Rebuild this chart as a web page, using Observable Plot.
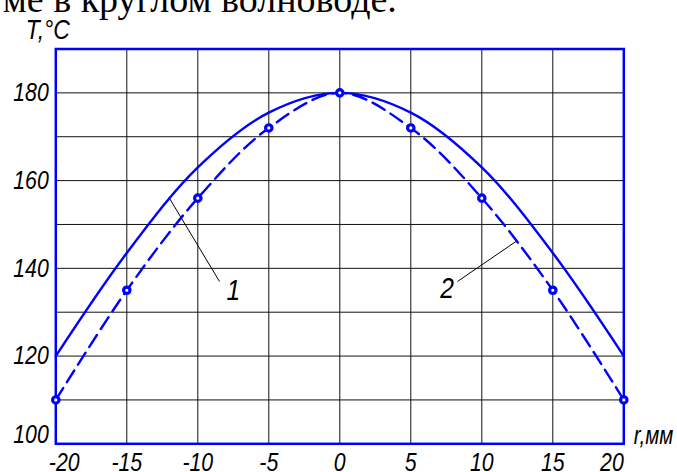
<!DOCTYPE html>
<html>
<head>
<meta charset="utf-8">
<script src="https://cdn.jsdelivr.net/npm/d3@7"></script>
<script src="https://cdn.jsdelivr.net/npm/@observablehq/plot@0.6"></script>
<style>
  html, body { margin: 0; padding: 0; background: #fff; }
  #chart { width: 677px; height: 472px; overflow: hidden; }
</style>
</head>
<body>
<div id="chart"></div>
<script>
// Radial temperature profile, mm → °C
const radius = [-20, -15, -10, -5, 0, 5, 10, 15, 20];
const tempCurve1 = [120, 143.5, 163, 175.5, 180, 175.5, 163, 143.5, 120];
const tempCurve2 = [110, 135, 156, 172, 180, 172, 156, 135, 110];

// Axis ticks and grid
const xTicks = [-20, -15, -10, -5, 0, 5, 10, 15, 20];
const yTicks = [100, 120, 140, 160, 180];
const yGrid = [100, 110, 120, 130, 140, 150, 160, 170, 180, 190];

// Curve numbers with their leader lines (data units)
const curveLabels = ["1", "2"];
const labelR = [-7.5, 7.55];
const labelT = [134.9, 135.4];
const leaderR1 = [-12.04, 12.44];
const leaderT1 = [156.2, 146.2];
const leaderR2 = [-8.47, 8.29];
const leaderT2 = [137.0, 137.0];

const heading = "ме в круглом волноводе.";
const yTitle = "T,°C";
const xTitle = "r,мм";

const blue = "#0000ff";
const sans = '"Liberation Sans", Arial, sans-serif';
const serif = '"Liberation Serif", "Times New Roman", serif';

const curve1 = radius.map((r, i) => ({r, t: tempCurve1[i]}));
const curve2 = radius.map((r, i) => ({r, t: tempCurve2[i]}));
const labels = curveLabels.map((text, i) => ({
  text, r: labelR[i], t: labelT[i],
  r1: leaderR1[i], t1: leaderT1[i], r2: leaderR2[i], t2: leaderT2[i]
}));
const inner = xTicks.slice(1, -1);

const chart = Plot.plot({
  width: 677,
  height: 472,
  marginLeft: 55.3,
  marginRight: 53.7,
  marginTop: 48.5,
  marginBottom: 28.7,
  x: {domain: [-20, 20], axis: null},
  y: {domain: [100, 190], axis: null},
  style: {fontFamily: sans, fontStyle: "italic", fontSize: "26px", color: "#000", background: "#fff"},
  marks: [
    // grid
    Plot.ruleX(xTicks, {x: d => d, stroke: "#111", strokeWidth: 1}),
    Plot.ruleY(yGrid, {y: d => d, stroke: "#111", strokeWidth: 1}),
    Plot.frame({stroke: blue, strokeWidth: 2.5}),

    // leader lines
    Plot.link(labels, {x1: "r1", y1: "t1", x2: "r2", y2: "t2", stroke: "#000", strokeWidth: 1}),

    // curves
    Plot.line(curve1, {x: "r", y: "t", curve: "catmull-rom", stroke: blue, strokeWidth: 2.4}),
    Plot.line(curve2, {x: "r", y: "t", curve: "catmull-rom", stroke: blue, strokeWidth: 2.4, strokeDasharray: "14,7"}),
    Plot.dot(curve2, {x: "r", y: "t", r: 3.2, stroke: blue, strokeWidth: 3.2, fill: "#fff"}),

    // curve numbers
    Plot.text(labels, {x: "r", y: "t", text: "text", fontSize: 30, className: "narrow"}),

    // x tick labels
    Plot.text(inner, {x: d => d, text: d => String(d), frameAnchor: "bottom", lineAnchor: "top", dy: 9, className: "narrow"}),
    Plot.text(xTicks.slice(0, 1), {x: d => d, text: d => String(d), frameAnchor: "bottom", lineAnchor: "top", dy: 9, textAnchor: "start", dx: -7, className: "narrow"}),
    Plot.text(xTicks.slice(-1), {x: d => d, text: d => String(d), frameAnchor: "bottom", lineAnchor: "top", dy: 9, textAnchor: "end", className: "narrow"}),

    // y tick labels
    Plot.text(yTicks.slice(1), {y: d => d, text: d => String(d), frameAnchor: "left", textAnchor: "end", dx: -7, className: "narrow"}),
    Plot.text(yTicks.slice(0, 1), {y: d => d, text: d => String(d), frameAnchor: "left", textAnchor: "end", dx: -7, lineAnchor: "bottom", dy: -1, className: "narrow"}),

    // axis titles
    Plot.text([yTitle], {text: d => d, frameAnchor: "top-left", textAnchor: "start", lineAnchor: "bottom", dx: -30, dy: -10, fontSize: 28, className: "narrow"}),
    Plot.text([xTitle], {text: d => d, frameAnchor: "bottom-right", textAnchor: "start", lineAnchor: "bottom", dx: 10, dy: 0, fontSize: 25, className: "narrow"}),

    // running text above the figure
    Plot.text([heading], {text: d => d, frameAnchor: "top-left", textAnchor: "start", lineAnchor: "bottom", dx: -53, dy: -37.5, fontSize: 38, fontFamily: serif, fontStyle: "normal"})
  ]
});

// Condense the italic sans labels horizontally (narrow face look)
chart.querySelectorAll("g[aria-label='text'] text").forEach(t => {
  if (t.closest(".narrow") || t.parentNode.classList.contains("narrow")) {
    const tr = t.getAttribute("transform") || "";
    t.setAttribute("transform", tr + " scale(0.82,1)");
  }
});

document.getElementById("chart").appendChild(chart);
</script>
</body>
</html>
